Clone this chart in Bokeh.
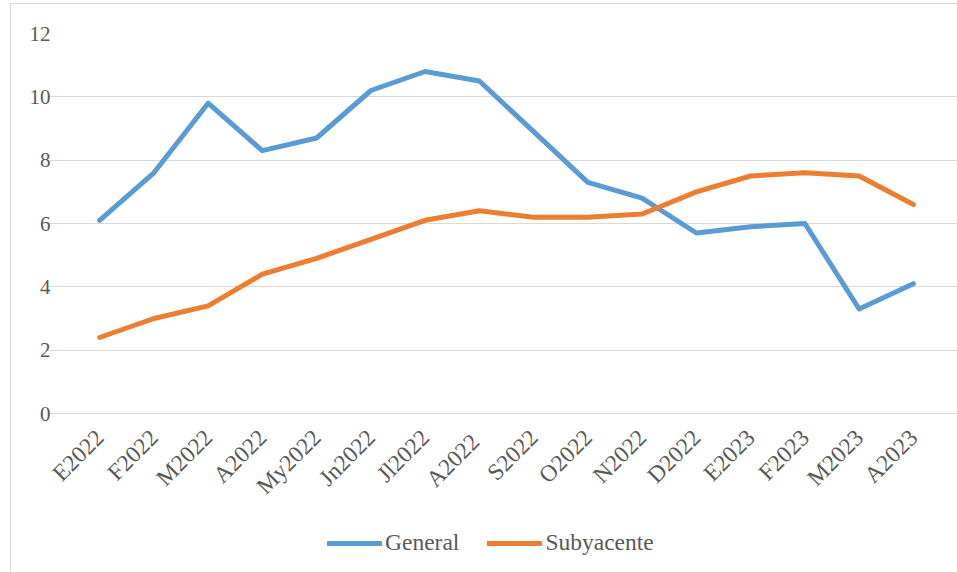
from math import pi
from bokeh.plotting import figure
from bokeh.models import FactorRange, Range1d, Legend, LegendItem, FixedTicker, ColumnDataSource
from bokeh.embed import file_html
from bokeh.resources import INLINE

months = ["E2022", "F2022", "M2022", "A2022", "My2022", "Jn2022", "Jl2022", "A2022 ",
          "S2022", "O2022", "N2022", "D2022", "E2023", "F2023", "M2023", "A2023"]
general = [6.1, 7.6, 9.8, 8.3, 8.7, 10.2, 10.8, 10.5, 8.9, 7.3, 6.8, 5.7, 5.9, 6.0, 3.3, 4.1]
subyacente = [2.4, 3.0, 3.4, 4.4, 4.9, 5.5, 6.1, 6.4, 6.2, 6.2, 6.3, 7.0, 7.5, 7.6, 7.5, 6.6]
y_ticks = [0, 2, 4, 6, 8, 10, 12]

FONT = "Liberation Serif"
GRAY = "#595959"

src = ColumnDataSource(dict(x=months, general=general, subyacente=subyacente))

BAND = 868 / 16          # pixel width of one category
PAD_PX = 25              # frame extends this far beyond the plot area on each side

xr = FactorRange(*months, range_padding=PAD_PX / BAND, range_padding_units="absolute")
# frame also extends below the 0 line so the legend (inside the frame) stays visible
p = figure(x_range=xr, y_range=Range1d(-160 / 380 * 12, 12),
           frame_width=868 + 2 * PAD_PX, frame_height=540,
           output_backend="svg", toolbar_location=None,
           min_border_left=36, min_border_right=0, min_border_top=29, min_border_bottom=0)
p.outline_line_color = None
p.background_fill_color = "white"
p.border_fill_color = "white"

g = p.line("x", "general", source=src, line_color="#5B9BD5", line_width=5,
           line_join="round", line_cap="round")
s = p.line("x", "subyacente", source=src, line_color="#ED7D31", line_width=5,
           line_join="round", line_cap="round")

p.xgrid.grid_line_color = None
p.ygrid.grid_line_color = "#D9D9D9"
p.ygrid.grid_line_width = 1.2
p.ygrid.bounds = (0, len(months))
p.yaxis.ticker = FixedTicker(ticks=y_ticks)

p.yaxis.axis_line_color = None
p.yaxis.major_tick_line_color = None
p.yaxis.minor_tick_line_color = None
p.yaxis.major_tick_out = 0
p.yaxis.major_tick_in = 0
p.yaxis.major_label_standoff = -3
p.yaxis.major_label_text_font = FONT
p.yaxis.major_label_text_font_size = "21px"
p.yaxis.major_label_text_color = GRAY

p.xaxis.fixed_location = 0
p.xaxis.axis_line_color = None
p.xaxis.major_tick_line_color = None
p.xaxis.minor_tick_line_color = None
p.xaxis.major_label_orientation = pi / 4
p.xaxis.major_label_standoff = 14
p.xaxis.major_label_text_font = FONT
p.xaxis.major_label_text_font_size = "23.5px"
p.xaxis.major_label_text_color = GRAY

legend = Legend(items=[LegendItem(label="General", renderers=[g]),
                       LegendItem(label="Subyacente", renderers=[s])],
                orientation="horizontal", location=(280, 17),
                label_text_font=FONT, label_text_font_size="23.5px",
                label_text_color=GRAY, glyph_width=55, glyph_height=20,
                label_standoff=3, spacing=28, border_line_color=None,
                background_fill_alpha=0, margin=0, padding=4)
p.add_layout(legend)

p.styles = {"border-left": "1px solid #D9D9D9", "border-top": "1px solid #D9D9D9",
            "margin-left": "10px", "margin-top": "3px"}

open("out.html", "w").write(file_html(p, INLINE))
